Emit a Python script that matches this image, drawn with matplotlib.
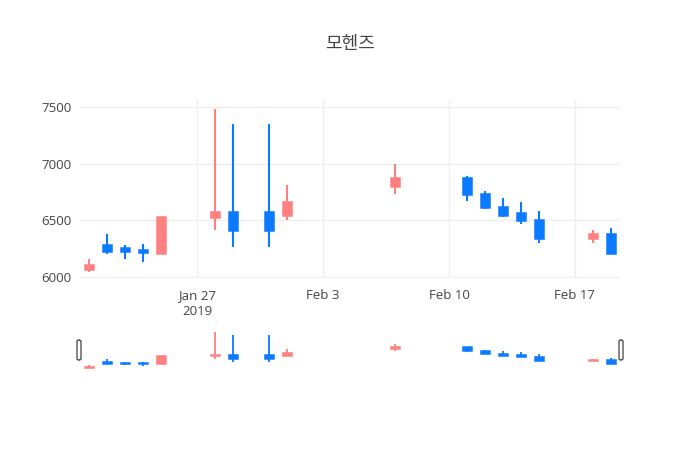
import matplotlib
matplotlib.use('Agg')
import matplotlib.pyplot as plt
import matplotlib.dates as mdates
from matplotlib.patches import FancyBboxPatch
import numpy as np
import datetime as dt

# ------ Data ------
dates = ['2019-01-21', '2019-01-22', '2019-01-23', '2019-01-24', '2019-01-25',
         '2019-01-28', '2019-01-29', '2019-01-31', '2019-02-01', '2019-02-07',
         '2019-02-11', '2019-02-12', '2019-02-13', '2019-02-14', '2019-02-15',
         '2019-02-18', '2019-02-19']
opens  = [6060, 6280, 6250, 6240, 6200, 6520, 6570, 6570, 6540, 6790,
          6870, 6730, 6620, 6560, 6500, 6330, 6380]
highs  = [6160, 6380, 6280, 6290, 6530, 7480, 7350, 7350, 6810, 7000,
          6890, 6760, 6700, 6660, 6580, 6410, 6430]
lows   = [6040, 6200, 6160, 6130, 6200, 6410, 6260, 6260, 6500, 6730,
          6670, 6600, 6530, 6470, 6300, 6300, 6200]
closes = [6100, 6220, 6220, 6210, 6530, 6570, 6400, 6400, 6660, 6870,
          6720, 6610, 6540, 6490, 6330, 6380, 6200]

title = '모헨즈'
xticks = ['2019-01-27', '2019-02-03', '2019-02-10', '2019-02-17']
xticklabels = ['Jan 27\n2019', 'Feb 3', 'Feb 10', 'Feb 17']
yticks = [6000, 6500, 7000, 7500]

up_color = '#ff8080'
down_color = '#0a7bff'
text_color = '#444444'

plt.rcParams['font.family'] = ['Open Sans', 'Noto Sans CJK KR', 'DejaVu Sans']

x = mdates.date2num([dt.datetime.strptime(d, '%Y-%m-%d') for d in dates])
o = np.array(opens); h = np.array(highs); l = np.array(lows); c = np.array(closes)
colors = [up_color if cc >= oo else down_color for oo, cc in zip(o, c)]
xmin = mdates.date2num(dt.datetime(2019, 1, 20, 12))
xmax = mdates.date2num(dt.datetime(2019, 2, 19, 12))


def candles(ax, wick_lw, width, edge_lw):
    ax.vlines(x, l, h, colors=colors, linewidth=wick_lw, zorder=2)
    bottom = np.minimum(o, c)
    height = np.abs(c - o)
    ax.bar(x, height, bottom=bottom, width=width, color=colors,
           edgecolor=colors, linewidth=edge_lw, zorder=3)


fig = plt.figure(figsize=(7, 4.5), dpi=100)

# ------ Main plot ------
ax = fig.add_axes([80/700, 1 - 278/450, 540/700, 178/450])
candles(ax, 1.5, 0.5, 1.1)
ax.set_xlim(xmin, xmax)
ax.set_ylim(5989, 7562)
ax.set_yticks(yticks)
ax.set_xticks(mdates.date2num([dt.datetime.strptime(d, '%Y-%m-%d') for d in xticks]))
ax.set_xticklabels(xticklabels)
ax.grid(True, color='#eeeeee', linewidth=1, zorder=0)
ax.set_axisbelow(True)
for s in ax.spines.values():
    s.set_visible(False)
ax.tick_params(axis='both', length=0, labelsize=9.5, colors=text_color, pad=6)
ax.tick_params(axis='x', pad=8)
for lab in ax.get_xticklabels():
    lab.set_linespacing(1.3)

fig.text(0.5, 1 - 44/450, title, ha='center', va='center', fontsize=13,
         color=text_color, family=['Noto Sans CJK KR', 'DejaVu Sans'])

# ------ Range slider ------
rs = fig.add_axes([80/700, 1 - 372/450, 540/700, 44/450])
candles(rs, 1.3, 0.5, 1.1)
rs.set_xlim(xmin, xmax)
rs.set_ylim(5880, 7640)
rs.set_xticks([]); rs.set_yticks([])
for s in rs.spines.values():
    s.set_visible(False)

for hx in (79, 621):
    handle = FancyBboxPatch(((hx - 2) / 700, 1 - 360/450), 4/700, 20/450,
                            boxstyle='round,pad=0,rounding_size=0.003',
                            transform=fig.transFigure, facecolor='white',
                            edgecolor='#555555', linewidth=1, zorder=5)
    fig.patches.append(handle)

fig.savefig('out.png', dpi=100)
